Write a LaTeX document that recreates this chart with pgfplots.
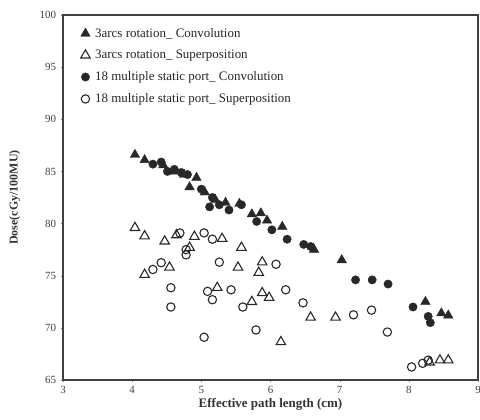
\documentclass[border=0pt]{standalone}
\usepackage{pgfplots}
\pgfplotsset{compat=1.18}
\usepackage{fontspec}
\setmainfont{Liberation Serif}
\definecolor{mk}{RGB}{40,40,40}
\begin{document}
\begin{tikzpicture}
\path[use as bounding box] (-63bp,-40bp) rectangle (417bp,380bp);
\begin{axis}[
  at={(0,0)}, anchor=south west,
  scale only axis,
  width=415bp, height=365bp,
  xmin=3, xmax=9, ymin=65, ymax=100,
  xtick={3,4,5,6,7,8,9}, ytick={65,70,75,80,85,90,95,100},
  xtick pos=left, ytick pos=left,
  tick align=outside, major tick length=2.5pt,
  /pgf/number format/assume math mode=true,
  tick label style={font=\fontsize{11}{12}\selectfont, text=black!75},
  yticklabel style={xshift=-1pt},
  axis line style={black!75, line width=1.1pt},
  xlabel={\textbf{Effective path length (cm)}},
  ylabel={\textbf{Dose(cGy/100MU)}},
  xlabel style={font=\fontsize{13}{14}\selectfont, text=black!80, at={(axis description cs:0.5,-0.068)}, anchor=center},
  ylabel style={font=\fontsize{12}{13}\selectfont, text=black!80, at={(axis description cs:-0.116,0.5)}, anchor=center},
  legend style={draw=none, fill=none, at={(0.035,0.975)}, anchor=north west,
    font=\fontsize{13}{14}\selectfont, row sep=7.5pt, text=black!85},
  legend cell align=left,
]
\addplot[only marks, mark=triangle*, mark size=5.5pt, mk, mark options={fill=mk, draw=mk}] coordinates {
(4.04,86.6)(4.18,86.1)(4.45,85.6)(4.6,85.0)(4.75,84.7)(4.93,84.4)(4.83,83.5)(5.05,83.0)(5.2,82.3)(5.35,82.0)(5.55,81.9)(5.73,80.9)(5.86,81.0)(5.95,80.3)(6.17,79.7)(6.63,77.5)(7.03,76.5)(8.24,72.5)(8.47,71.4)(8.57,71.2)};
\addlegendentry{\hspace{3pt}3arcs rotation\_ Convolution}
\addplot[only marks, mark=triangle, mark size=5.5pt, mk, mark options={draw=mk, line width=1.1pt}] coordinates {
(4.04,79.6)(4.18,78.8)(4.18,75.1)(4.47,78.3)(4.64,78.9)(4.83,77.7)(4.9,78.75)(5.3,78.55)(4.54,75.8)(5.58,77.7)(5.53,75.8)(5.23,73.85)(5.88,76.3)(5.83,75.3)(5.88,73.35)(5.98,72.9)(5.73,72.5)(6.58,71.0)(6.94,71.0)(6.15,68.65)(8.45,66.9)(8.57,66.9)(8.3,66.7)};
\addlegendentry{\hspace{3pt}3arcs rotation\_ Superposition}
\addplot[only marks, mark=*, mark size=4.2pt, mk, mark options={fill=mk, draw=mk}] coordinates {
(4.3,85.7)(4.42,85.9)(4.51,85.0)(4.61,85.2)(4.71,84.9)(4.8,84.7)(5.0,83.3)(5.16,82.5)(5.12,81.6)(5.26,81.8)(5.4,81.3)(5.58,81.8)(5.8,80.2)(6.02,79.4)(6.24,78.5)(6.48,78.0)(6.58,77.8)(7.23,74.6)(7.47,74.6)(7.7,74.2)(8.06,72.0)(8.28,71.1)(8.31,70.5)};
\addlegendentry{\hspace{3pt}18 multiple static port\_ Convolution}
\addplot[only marks, mark=o, mark size=4.2pt, mk, mark options={draw=mk, line width=1.1pt}] coordinates {
(4.3,75.6)(4.42,76.25)(4.56,73.85)(4.56,72.0)(4.69,79.1)(4.78,77.5)(4.78,77.0)(5.04,79.1)(5.16,78.5)(5.26,76.3)(5.09,73.5)(5.16,72.7)(5.43,73.65)(5.04,69.1)(5.6,72.0)(5.79,69.8)(6.08,76.1)(6.22,73.65)(6.47,72.4)(7.2,71.25)(7.46,71.7)(7.69,69.6)(8.04,66.25)(8.2,66.6)(8.28,66.9)};
\addlegendentry{\hspace{3pt}18 multiple static port\_ Superposition}
\end{axis}
\end{tikzpicture}
\end{document}
